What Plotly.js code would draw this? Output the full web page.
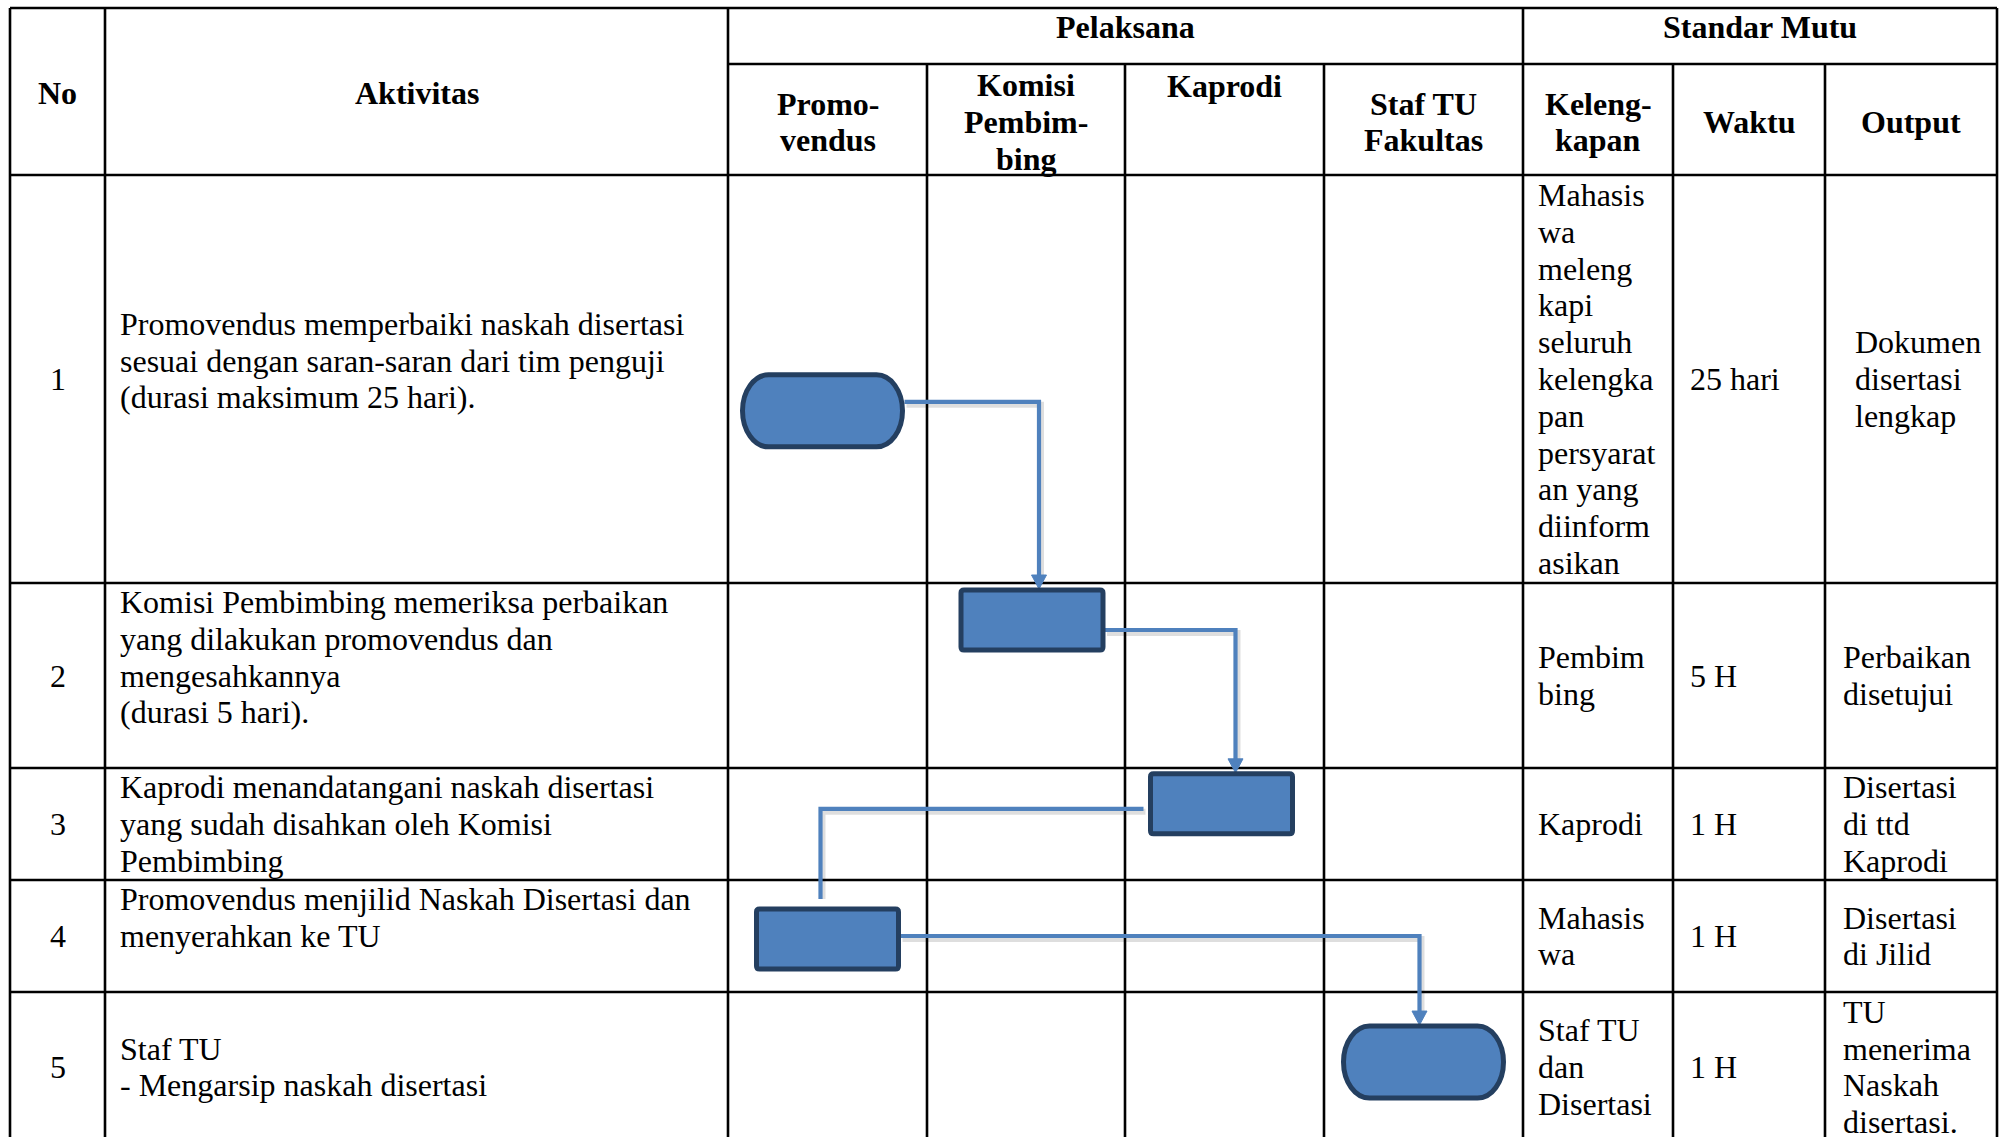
<!DOCTYPE html>
<html><head><meta charset="utf-8">
<script src="https://cdn.plot.ly/plotly-3.0.1.min.js"></script>
<style>html,body{margin:0;padding:0;background:#fff;overflow:hidden}</style>
</head><body><div id="chart" style="width:2002px;height:1137px"></div>
<script>
// ---------------- data (content) ----------------
const headerMain = ['No', 'Aktivitas', 'Pelaksana', 'Standar Mutu'];
const laneLabels = [['Promo-', 'vendus'], ['Komisi', 'Pembim-', 'bing'], ['Kaprodi'], ['Staf TU', 'Fakultas']];
const standarLabels = [['Keleng-', 'kapan'], ['Waktu'], ['Output']];
const stepNo = ['1', '2', '3', '4', '5'];
const activities = [
  ['Promovendus memperbaiki naskah disertasi', 'sesuai dengan saran-saran dari tim penguji', '(durasi maksimum 25 hari).', ''],
  ['Komisi Pembimbing memeriksa perbaikan', 'yang dilakukan promovendus dan', 'mengesahkannya', '(durasi 5 hari).', ''],
  ['Kaprodi menandatangani naskah disertasi', 'yang sudah disahkan oleh Komisi', 'Pembimbing'],
  ['Promovendus menjilid Naskah Disertasi dan', 'menyerahkan ke TU', ''],
  ['Staf TU', '- Mengarsip naskah disertasi']
];
const kelengkapan = [
  ['Mahasis', 'wa', 'meleng', 'kapi', 'seluruh', 'kelengka', 'pan', 'persyarat', 'an yang', 'diinform', 'asikan'],
  ['Pembim', 'bing'],
  ['Kaprodi'],
  ['Mahasis', 'wa'],
  ['Staf TU', 'dan', 'Disertasi']
];
const waktu = ['25 hari', '5 H', '1 H', '1 H', '1 H'];
const outputs = [
  ['Dokumen', 'disertasi', 'lengkap'],
  ['Perbaikan', 'disetujui'],
  ['Disertasi', 'di ttd', 'Kaprodi'],
  ['Disertasi', 'di Jilid'],
  ['TU', 'menerima', 'Naskah', 'disertasi.']
];
const stepLane = [0, 1, 2, 0, 3];
const stepShape = ['terminator', 'process', 'process', 'process', 'terminator'];
const connectorArrow = [true, true, false, true];

// ---------------- layout geometry & style ----------------
const W = 2002, H = 1137;
const colX = [10, 105, 728, 927, 1125, 1324, 1523, 1673, 1825, 1997];
const rowY = [8, 64, 175, 583, 768, 880, 992, 1142];
const LH = 36.8, TOP_PAD = 21.5, MAIN_TOP_PAD = 18.5, HEAD_DY = 2.5;
const FONT = 'Liberation Serif, Times New Roman, serif';
const FS = 32;
const headerLaneValign = ['middle', 'middle', 'top', 'middle'];
const outputIndent = [12, 0, 0, 0, 0];
const nodeFracY = [0.578, 0.2, 0.32, 0.527, 0.467];
const nodeDX = [-5, 6, -3, 0, 0];
const nodeSize = {terminator: [160, 72], process: [142, 60]};
const connStartDY = [-9, 10, 5, -3];
const connBendDX = [7, 14, -7, -4];
const FILL = '#4F81BD', EDGE = '#243F60', LINE = '#4F81BD';

const shapes = [];
const annotations = [];

function hline(y, x0, x1) {
  shapes.push({type: 'line', xref: 'x', yref: 'y', x0: x0, x1: x1, y0: y, y1: y, line: {color: '#000', width: 2.6}, layer: 'above'});
}
function vline(x, y0, y1) {
  shapes.push({type: 'line', xref: 'x', yref: 'y', x0: x, x1: x, y0: y0, y1: y1, line: {color: '#000', width: 2.6}, layer: 'above'});
}
function text(t, x, y, anchor, bold) {
  if (t === '') return;
  annotations.push({xref: 'x', yref: 'y', x: x, y: y, xanchor: anchor, yanchor: 'middle', showarrow: false,
    text: bold ? '<b>' + t + '</b>' : t, font: {family: FONT, size: FS, color: '#000'}, borderpad: 0});
}
function cellLines(lines, x, top, bottom, anchor, valign, bold, dy, pad) {
  const n = lines.length;
  let first = valign === 'top' ? top + (pad || TOP_PAD) : (top + bottom) / 2 - (n - 1) / 2 * LH;
  first += dy || 0;
  lines.forEach((t, i) => text(t, x, first + i * LH, anchor, bold));
}

// ---- grid ----
const yBot = rowY[rowY.length - 1];
hline(rowY[0], colX[0], colX[9]);
hline(rowY[1], colX[2], colX[9]);
for (let r = 2; r < rowY.length; r++) hline(rowY[r], colX[0], colX[9]);
[0, 1, 2, 6, 9].forEach(c => vline(colX[c], rowY[0], yBot));
[3, 4, 5, 7, 8].forEach(c => vline(colX[c], rowY[1], yBot));

// ---- header ----
cellLines([headerMain[0]], (colX[0] + colX[1]) / 2, rowY[0], rowY[2], 'center', 'middle', true, 1.5);
cellLines([headerMain[1]], (colX[1] + colX[2]) / 2, rowY[0], rowY[2], 'center', 'middle', true, 1.5);
cellLines([headerMain[2]], (colX[2] + colX[6]) / 2, rowY[0], rowY[1], 'center', 'top', true, 0, MAIN_TOP_PAD);
cellLines([headerMain[3]], (colX[6] + colX[9]) / 2, rowY[0], rowY[1], 'center', 'top', true, 0, MAIN_TOP_PAD);
laneLabels.forEach((lines, i) => cellLines(lines, (colX[2 + i] + colX[3 + i]) / 2, rowY[1], rowY[2], 'center', headerLaneValign[i], true,
  headerLaneValign[i] === 'middle' ? HEAD_DY : 0));
standarLabels.forEach((lines, i) => cellLines(lines, (colX[6 + i] + colX[7 + i]) / 2, rowY[1], rowY[2], 'center', 'middle', true, HEAD_DY));

// ---- body ----
stepNo.forEach((no, i) => {
  const top = rowY[2 + i], bot = rowY[3 + i];
  cellLines([no], (colX[0] + colX[1]) / 2, top, bot, 'center', 'middle', false);
  cellLines(activities[i], colX[1] + 14, top, bot, 'left', 'middle', false);
  cellLines(kelengkapan[i], colX[6] + 14, top, bot, 'left', 'middle', false);
  cellLines([waktu[i]], colX[7] + 16, top, bot, 'left', 'middle', false);
  cellLines(outputs[i], colX[8] + 17 + outputIndent[i], top, bot, 'left', 'middle', false);
});

// ---- flow nodes ----
const nodes = stepLane.map((lane, i) => {
  const top = rowY[2 + i], bot = rowY[3 + i];
  const cx = (colX[2 + lane] + colX[3 + lane]) / 2 + nodeDX[i];
  const cy = top + nodeFracY[i] * (bot - top);
  const [w, h] = nodeSize[stepShape[i]];
  return {cx, cy, w, h, kind: stepShape[i]};
});

// connectors (drawn first so nodes sit above)
for (let k = 0; k < nodes.length - 1; k++) {
  const s = nodes[k], t = nodes[k + 1];
  const goRight = t.cx > s.cx;
  const x0 = goRight ? s.cx + s.w / 2 + 2 : s.cx - s.w / 2 - 7;
  const y0 = s.cy + connStartDY[k];
  const bx = t.cx + connBendDX[k];
  const tTop = t.cy - t.h / 2;
  const tip = connectorArrow[k] ? tTop - 1 : tTop - 10;
  const lineEnd = connectorArrow[k] ? tip - 12 : tip;
  const path = `M${x0},${y0} L${bx},${y0} L${bx},${lineEnd}`;
  const shadow = `M${x0 + 2},${y0 + 3} L${bx + 2},${y0 + 3} L${bx + 2},${lineEnd}`;
  shapes.push({type: 'path', xref: 'x', yref: 'y', path: shadow, line: {color: 'rgba(0,0,0,0.13)', width: 6}, layer: 'above'});
  shapes.push({type: 'path', xref: 'x', yref: 'y', path: path, line: {color: LINE, width: 4.2}, layer: 'above'});
  if (connectorArrow[k]) {
    shapes.push({type: 'path', xref: 'x', yref: 'y', path: `M${bx - 7.5},${tip - 14} L${bx + 7.5},${tip - 14} L${bx},${tip} Z`,
      fillcolor: LINE, line: {color: LINE, width: 1}, layer: 'above'});
  }
}

nodes.forEach(n => {
  const x0 = n.cx - n.w / 2, x1 = n.cx + n.w / 2, y0 = n.cy - n.h / 2, y1 = n.cy + n.h / 2;
  if (n.kind === 'process') {
    const r = 3;
    const p = `M${x0 + r},${y0} L${x1 - r},${y0} Q${x1},${y0} ${x1},${y0 + r} L${x1},${y1 - r} Q${x1},${y1} ${x1 - r},${y1} L${x0 + r},${y1} Q${x0},${y1} ${x0},${y1 - r} L${x0},${y0 + r} Q${x0},${y0} ${x0 + r},${y0} Z`;
    shapes.push({type: 'path', xref: 'x', yref: 'y', path: p, fillcolor: FILL, line: {color: EDGE, width: 5}, layer: 'above'});
  } else {
    const rx = 26, ry = n.h / 2, k = 0.5523;
    const ym = n.cy;
    const p = `M${x0 + rx},${y0} L${x1 - rx},${y0} C${x1 - rx + k * rx},${y0} ${x1},${ym - k * ry} ${x1},${ym} C${x1},${ym + k * ry} ${x1 - rx + k * rx},${y1} ${x1 - rx},${y1} L${x0 + rx},${y1} C${x0 + rx - k * rx},${y1} ${x0},${ym + k * ry} ${x0},${ym} C${x0},${ym - k * ry} ${x0 + rx - k * rx},${y0} ${x0 + rx},${y0} Z`;
    shapes.push({type: 'path', xref: 'x', yref: 'y', path: p, fillcolor: FILL, line: {color: EDGE, width: 5}, layer: 'above'});
  }
});

const layout = {
  width: W, height: H,
  margin: {l: 0, r: 0, t: 0, b: 0, pad: 0},
  paper_bgcolor: '#fff', plot_bgcolor: '#fff',
  showlegend: false,
  font: {family: FONT},
  xaxis: {range: [0, W], visible: false, fixedrange: true},
  yaxis: {range: [H, 0], visible: false, fixedrange: true},
  shapes: shapes,
  annotations: annotations
};
Plotly.newPlot('chart', [], layout, {staticPlot: true, displayModeBar: false});
</script>
</body></html>
